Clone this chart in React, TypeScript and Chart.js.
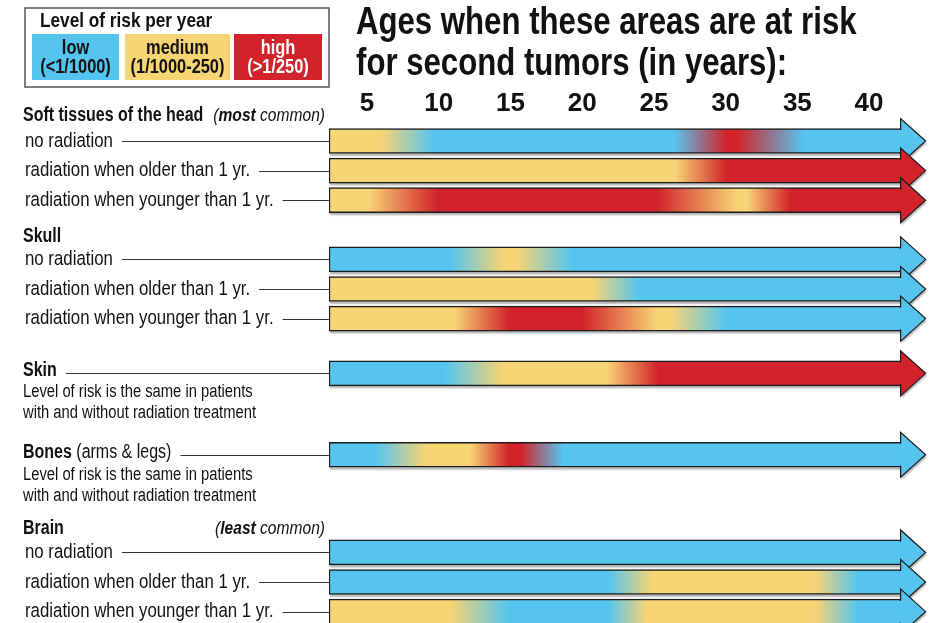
import React, { useEffect, useRef } from 'react';
import { Chart, registerables } from 'chart.js';

Chart.register(...registerables);

const FONT = "'Liberation Sans', Arial, sans-serif";
const NARROW = 0.82; // horizontal squeeze to mimic a condensed face

const LEVEL_COLORS: Record<string, string> = {
  low: '#55C5F0',
  medium: '#F7D474',
  high: '#D2232A',
};

const TITLE_LINES = ['Ages when these areas are at risk', 'for second tumors (in years):'];
const LEGEND_TITLE = 'Level of risk per year';
const LEGEND_LEVELS = ['low', 'medium', 'high'];
const LEGEND_NAMES = ['low', 'medium', 'high'];
const LEGEND_RANGES = ['(<1/1000)', '(1/1000-250)', '(>1/250)'];

const AGE_TICKS = [5, 10, 15, 20, 25, 30, 35, 40];
const AGE_START = 2.35;
const AGE_AXIS_MAX = 43.9;

const ROW_LABELS = [
  'no radiation',
  'radiation when older than 1 yr.',
  'radiation when younger than 1 yr.',
  'no radiation',
  'radiation when older than 1 yr.',
  'radiation when younger than 1 yr.',
  '',
  '',
  'no radiation',
  'radiation when older than 1 yr.',
  'radiation when younger than 1 yr.',
];

// vertical slot of each row (in row pitches)
const ROW_SLOTS = [0, 1, 2, 4, 5, 6, 7.85, 10.6, 13.9, 14.9, 15.9];

type Stop = [number, string];
// [age, risk level] colour stops for each arrow
const SOFT_NONE: Stop[] = [[2.35, 'medium'], [6.0, 'medium'], [9.7, 'low'], [26.4, 'low'], [30.1, 'high'], [30.8, 'high'], [35.5, 'low'], [42.2, 'low']];
const SOFT_OLDER: Stop[] = [[2.35, 'medium'], [26.5, 'medium'], [30.1, 'high'], [42.2, 'high']];
const SOFT_YOUNGER: Stop[] = [[2.35, 'medium'], [5.1, 'medium'], [9.9, 'high'], [25.2, 'high'], [30.8, 'medium'], [31.5, 'medium'], [34.5, 'high'], [42.2, 'high']];
const SKULL_NONE: Stop[] = [[2.35, 'low'], [10.8, 'low'], [14.5, 'medium'], [15.5, 'medium'], [19.3, 'low'], [42.2, 'low']];
const SKULL_OLDER: Stop[] = [[2.35, 'medium'], [20.7, 'medium'], [24.0, 'low'], [42.2, 'low']];
const SKULL_YOUNGER: Stop[] = [[2.35, 'medium'], [11.1, 'medium'], [14.9, 'high'], [20.0, 'high'], [25.2, 'medium'], [26.2, 'medium'], [30.1, 'low'], [42.2, 'low']];
const SKIN_ALL: Stop[] = [[2.35, 'low'], [10.4, 'low'], [14.5, 'medium'], [21.7, 'medium'], [25.3, 'high'], [42.2, 'high']];
const BONES_ALL: Stop[] = [[2.35, 'low'], [5.6, 'low'], [9.1, 'medium'], [12.2, 'medium'], [14.9, 'high'], [15.7, 'high'], [18.7, 'low'], [42.2, 'low']];
const BRAIN_NONE: Stop[] = [[2.35, 'low'], [42.2, 'low']];
const BRAIN_OLDER: Stop[] = [[2.35, 'low'], [21.8, 'low'], [24.9, 'medium'], [36.2, 'medium'], [39.3, 'low'], [42.2, 'low']];
const BRAIN_YOUNGER: Stop[] = [[2.35, 'medium'], [10.8, 'medium'], [14.9, 'low'], [21.8, 'low'], [24.5, 'medium'], [36.2, 'medium'], [39.3, 'low'], [42.2, 'low']];

const ROW_STOPS = [SOFT_NONE, SOFT_OLDER, SOFT_YOUNGER, SKULL_NONE, SKULL_OLDER, SKULL_YOUNGER, SKIN_ALL, BONES_ALL, BRAIN_NONE, BRAIN_OLDER, BRAIN_YOUNGER];

const SAME_RISK = ['Level of risk is the same in patients', 'with and without radiation treatment'];

type Part = [string, string];
const HEADERS: { parts: Part[]; row: number; dy: number; leader?: boolean; desc?: string[]; note?: Part[] }[] = [
  { parts: [['Soft tissues of the head', 'bold']], row: 0, dy: -25, note: [['(', 'italic'], ['most', 'italic bold'], [' common)', 'italic']] },
  { parts: [['Skull', 'bold']], row: 3, dy: -23 },
  { parts: [['Skin', 'bold']], row: 6, dy: -3, leader: true, desc: SAME_RISK },
  { parts: [['Bones', 'bold'], [' (arms & legs)', 'normal']], row: 7, dy: -2, leader: true, desc: SAME_RISK },
  { parts: [['Brain', 'bold']], row: 8, dy: -24, note: [['(', 'italic'], ['least', 'italic bold'], [' common)', 'italic']] },
];

const TICK_SIZE = 26;
const ROW_PITCH = 29.6;
const AREA_TOP = 119;
const Y_MIN = -(141 - AREA_TOP) / ROW_PITCH;
const Y_MAX = Y_MIN + (623 - AREA_TOP) / ROW_PITCH;

function gradientFor(chart: any, stops: Stop[]) {
  const xs = chart.scales && chart.scales.x;
  if (!xs || !chart.chartArea) return LEVEL_COLORS[stops[0][1]];
  const x0 = xs.getPixelForValue(stops[0][0]);
  const x1 = xs.getPixelForValue(stops[stops.length - 1][0]);
  const g = chart.ctx.createLinearGradient(x0, 0, x1, 0);
  for (const [age, lvl] of stops) {
    const t = Math.min(1, Math.max(0, (xs.getPixelForValue(age) - x0) / (x1 - x0)));
    g.addColorStop(t, LEVEL_COLORS[lvl]);
  }
  return g;
}

const BORDER = 1.5;
const HEAD_OVER = 10;
const HEAD_LEN = 25;

function arrowPath(ctx: CanvasRenderingContext2D, base: number, x: number, y: number, half: number) {
  ctx.beginPath();
  ctx.moveTo(base, y - half);
  ctx.lineTo(x, y - half);
  ctx.lineTo(x, y - half - HEAD_OVER);
  ctx.lineTo(x + HEAD_LEN, y);
  ctx.lineTo(x, y + half + HEAD_OVER);
  ctx.lineTo(x, y + half);
  ctx.lineTo(base, y + half);
  ctx.closePath();
}

const arrowPlugin = {
  id: 'arrowHeads',
  beforeDatasetDraw(chart: any, args: any) {
    const el = args.meta.data[0];
    if (!el) return;
    const { x, y, height, base } = el.getProps(['x', 'y', 'height', 'base'], true);
    const ctx = chart.ctx;
    ctx.save();
    arrowPath(ctx, base, x, y, height / 2);
    ctx.shadowColor = 'rgba(0,0,0,0.28)';
    ctx.shadowOffsetY = 2.5;
    ctx.shadowOffsetX = 1;
    ctx.shadowBlur = 1.5;
    ctx.fillStyle = '#fff';
    ctx.fill();
    ctx.restore();
  },
  afterDatasetDraw(chart: any, args: any) {
    const i = args.index;
    const el = args.meta.data[0];
    if (!el) return;
    const { x, y, height } = el.getProps(['x', 'y', 'height'], true);
    const stops = ROW_STOPS[i];
    const color = LEVEL_COLORS[stops[stops.length - 1][1]];
    const ctx = chart.ctx;
    const half = height / 2;
    ctx.save();
    ctx.fillStyle = color;
    ctx.fillRect(x - BORDER - 1, y - half + BORDER, BORDER + 2, height - 2 * BORDER);
    ctx.beginPath();
    ctx.moveTo(x, y - half);
    ctx.lineTo(x, y - half - HEAD_OVER);
    ctx.lineTo(x + HEAD_LEN, y);
    ctx.lineTo(x, y + half + HEAD_OVER);
    ctx.lineTo(x, y + half);
    ctx.closePath();
    ctx.fill();
    ctx.beginPath();
    ctx.moveTo(x, y - half + BORDER);
    ctx.lineTo(x, y - half - HEAD_OVER);
    ctx.lineTo(x + HEAD_LEN, y);
    ctx.lineTo(x, y + half + HEAD_OVER);
    ctx.lineTo(x, y + half - BORDER);
    ctx.strokeStyle = '#1a1a1a';
    ctx.lineWidth = 1.2;
    ctx.stroke();
    ctx.restore();
  },
};

function narrowText(ctx: CanvasRenderingContext2D, txt: string, x: number, y: number, font: string, align = 'left') {
  ctx.font = font;
  const w = ctx.measureText(txt).width * NARROW;
  const left = align === 'center' ? x - w / 2 : align === 'right' ? x - w : x;
  ctx.save();
  ctx.translate(left, y);
  ctx.scale(NARROW, 1);
  ctx.textAlign = 'left';
  ctx.fillText(txt, 0, 0);
  ctx.restore();
  return w;
}

function drawParts(ctx: CanvasRenderingContext2D, parts: Part[], x: number, y: number, size: number) {
  let cx = x;
  for (const [txt, style] of parts) {
    cx += narrowText(ctx, txt, cx, y, `${style} ${size}px ${FONT}`);
  }
  return cx;
}

function partsWidth(ctx: CanvasRenderingContext2D, parts: Part[], size: number) {
  let w = 0;
  for (const [txt, style] of parts) {
    ctx.font = `${style} ${size}px ${FONT}`;
    w += ctx.measureText(txt).width * NARROW;
  }
  return w;
}

const textPlugin = {
  id: 'infoText',
  afterDraw(chart: any) {
    const ctx: CanvasRenderingContext2D = chart.ctx;
    const xs = chart.scales.x;
    const ys = chart.scales.y;
    const barLeft = xs.getPixelForValue(AGE_START);
    ctx.save();
    ctx.textBaseline = 'middle';
    ctx.fillStyle = '#111';

    // title
    narrowText(ctx, TITLE_LINES[0], 356, 24, `bold 38px ${FONT}`);
    narrowText(ctx, TITLE_LINES[1], 356, 65, `bold 38px ${FONT}`);

    // legend
    ctx.strokeStyle = '#555';
    ctx.lineWidth = 1.5;
    ctx.strokeRect(25, 8, 304, 79);
    narrowText(ctx, LEGEND_TITLE, 40, 21, `bold 21px ${FONT}`);
    const boxes = [[32, 87], [125, 105], [234, 88]];
    LEGEND_LEVELS.forEach((lvl, k) => {
      const [bx, bw] = boxes[k];
      ctx.fillStyle = LEVEL_COLORS[lvl];
      ctx.fillRect(bx, 34, bw, 46);
      ctx.fillStyle = lvl === 'high' ? '#fff' : '#111';
      narrowText(ctx, LEGEND_NAMES[k], bx + bw / 2, 48, `bold 20px ${FONT}`, 'center');
      narrowText(ctx, LEGEND_RANGES[k], bx + bw / 2, 67, `bold 20px ${FONT}`, 'center');
    });
    ctx.fillStyle = '#111';
    ctx.strokeStyle = '#333';
    ctx.lineWidth = 1;

    // row labels with leader lines
    ROW_LABELS.forEach((label, i) => {
      if (!label) return;
      const y = ys.getPixelForValue(ROW_SLOTS[i]);
      const w = narrowText(ctx, label, 25, y, `normal 20.5px ${FONT}`);
      const end = 25 + w + 9;
      ctx.beginPath();
      ctx.moveTo(end, Math.round(y) + 0.5);
      ctx.lineTo(barLeft, Math.round(y) + 0.5);
      ctx.stroke();
    });

    // group headers
    HEADERS.forEach((h) => {
      const rowY = ys.getPixelForValue(ROW_SLOTS[h.row]);
      const y = rowY + h.dy;
      const end = drawParts(ctx, h.parts, 23, y, 19.5);
      if (h.leader) {
        ctx.beginPath();
        ctx.moveTo(end + 9, Math.round(rowY) + 0.5);
        ctx.lineTo(barLeft, Math.round(rowY) + 0.5);
        ctx.stroke();
      }
      if (h.note) {
        const w = partsWidth(ctx, h.note, 19);
        drawParts(ctx, h.note, 325 - w, y, 19);
      }
      if (h.desc) {
        h.desc.forEach((line, k) => narrowText(ctx, line, 23, y + 22 + k * 21, `normal 18px ${FONT}`));
      }
    });
    ctx.restore();
  },
};

export default function App() {
  const ref = useRef<HTMLCanvasElement | null>(null);
  useEffect(() => {
    if (!ref.current) return;
    const chart = new Chart(ref.current, {
      type: 'bar',
      data: {
        datasets: ROW_STOPS.map((stops, i) => ({
          label: ROW_LABELS[i] || 'row',
          data: [{ x: [stops[0][0], stops[stops.length - 1][0]], y: ROW_SLOTS[i] }],
          backgroundColor: (c: any) => gradientFor(c.chart, stops),
          borderColor: '#1a1a1a',
          borderWidth: BORDER,
          borderSkipped: false,
          barThickness: 25,
          grouped: false,
          order: -i,
        })) as any,
      },
      options: {
        indexAxis: 'y',
        animation: false,
        responsive: true,
        maintainAspectRatio: false,
        events: [],
        layout: { padding: { left: 329, right: 5, top: AREA_TOP - TICK_SIZE * 1.2, bottom: 0 } },
        plugins: { legend: { display: false }, tooltip: { enabled: false } },
        scales: {
          x: {
            type: 'linear',
            position: 'top',
            min: AGE_START,
            max: AGE_AXIS_MAX,
            grid: { display: false, drawTicks: false },
            border: { display: false },
            afterBuildTicks: (axis: any) => {
              axis.ticks = AGE_TICKS.map((v) => ({ value: v }));
            },
            ticks: {
              font: { family: FONT, size: TICK_SIZE, weight: 'bold' },
              color: '#111',
              padding: 0,
              autoSkip: false,
              maxRotation: 0,
              callback: (v: any) => String(v),
            },
          },
          y: { type: 'linear', reverse: true, min: Y_MIN, max: Y_MAX, display: false, offset: false },
        },
      } as any,
      plugins: [arrowPlugin, textPlugin],
    });
    return () => chart.destroy();
  }, []);
  return (
    <div style={{ position: 'absolute', left: 0, top: 0, width: 930, height: 623, background: '#fff' }}>
      <canvas ref={ref} />
    </div>
  );
}
